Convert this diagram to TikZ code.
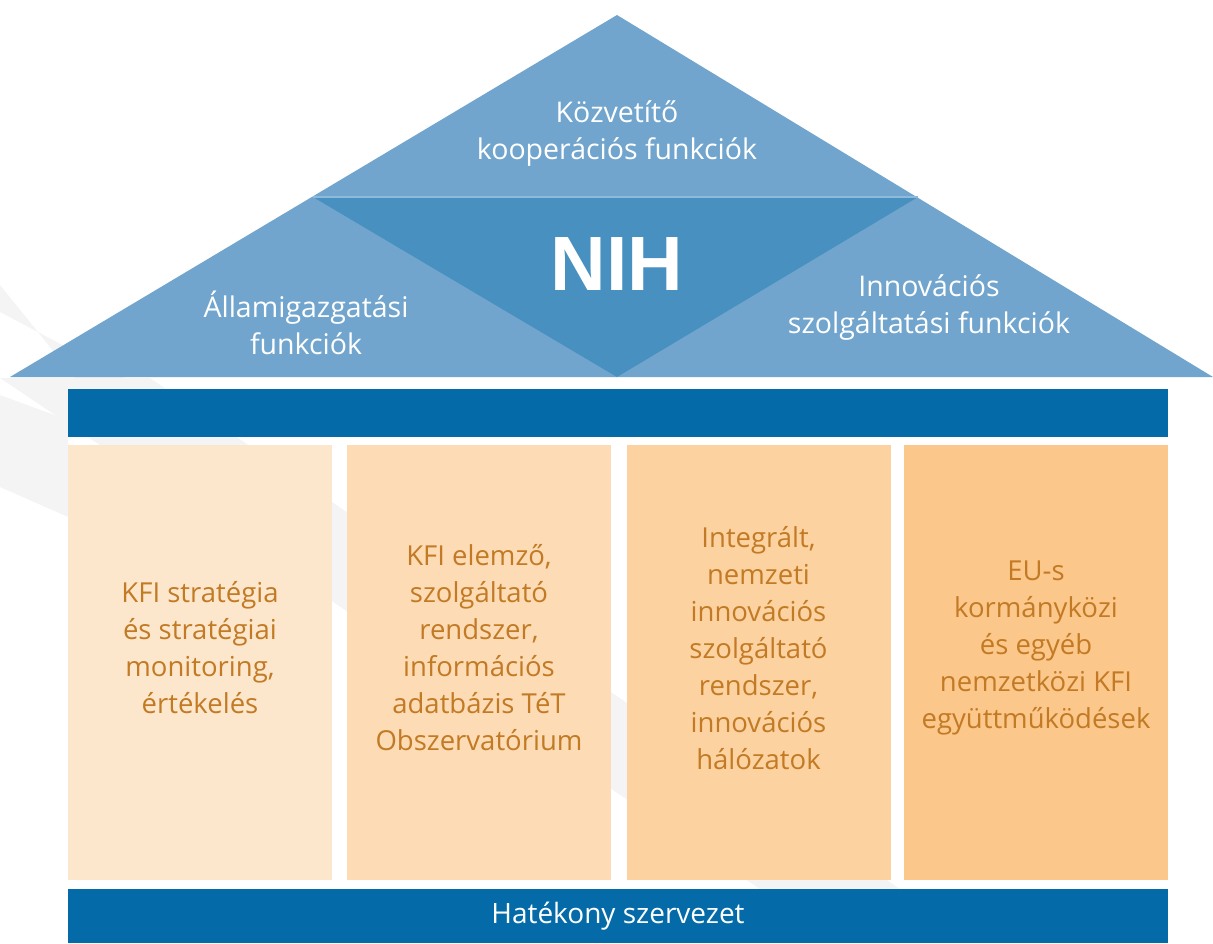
\documentclass[tikz,border=0pt]{standalone}
\usepackage{fontspec}
\setmainfont{Open Sans}
\newfontfamily\nihfont{Liberation Sans}
\usetikzlibrary{positioning}

\definecolor{roofblue}{HTML}{71A5CD}
\definecolor{nihblue}{HTML}{4790C0}
\definecolor{barblue}{HTML}{046BA8}
\definecolor{ridge}{HTML}{8DB9DA}
\definecolor{swoosh}{HTML}{F4F4F4}
\definecolor{colA}{HTML}{FDE7CC}
\definecolor{colB}{HTML}{FDDBB5}
\definecolor{colC}{HTML}{FCD2A1}
\definecolor{colD}{HTML}{FCC78A}
\definecolor{coltext}{HTML}{C27A24}

\tikzset{
    rooftext/.style={text=white, align=center, font=\fontsize{28.5}{37}\selectfont},
    pillartext/.style={text=coltext, align=center, font=\fontsize{27.5}{37}\selectfont},
    pillar/.style={draw=none, minimum width=264pt, minimum height=435pt, inner sep=0pt}
}

\begin{document}
\begin{tikzpicture}[x=1pt, y=-1pt]
    \useasboundingbox (0,0) rectangle (1213,943);

    % faint swooshes in the background
    \fill[swoosh] (0,378) -- (150,378) -- (900,889) -- (760,889) -- cycle;
    \fill[swoosh] (0,395) -- (0,487) -- (68,517) -- (68,420) -- cycle;
    \fill[swoosh] (0,285) -- (0,312) -- (125,378) -- (75,378) -- cycle;

    % Roof
    \coordinate (apex) at (617,15);
    \coordinate (eaveL) at (10,377);
    \coordinate (eaveR) at (1213,377);
    \coordinate (ridgeL) at (313,197);
    \coordinate (ridgeR) at (918,197);
    \coordinate (peak) at (617,377);
    \fill[roofblue] (eaveL) -- (apex) -- (eaveR) -- cycle;
    \fill[nihblue] (ridgeL) -- (ridgeR) -- (peak) -- cycle;
    \draw[ridge, line width=1.5pt] (ridgeL) -- (ridgeR);

    \node[rooftext] (koz) at (617,134) {Közvetítő\\kooperációs funkciók};
    \node[rooftext] (allam) at (306,323) {Államigazgatási\\funkciók};
    \node[rooftext] (innov) at (929,307) {Innovációs\\szolgáltatási funkciók};
    \node[text=white, font=\nihfont\bfseries\fontsize{77}{77}\selectfont] (nih) at (617,264) {NIH};

    % Beam under the roof
    \fill[barblue] (68,389) rectangle (1168,437);

    % Pillars
    \foreach \cx/\col/\txt/\nm in {
        200/colA/{KFI stratégia\\és stratégiai\\monitoring,\\értékelés}/p1,
        479/colB/{KFI elemző,\\szolgáltató\\rendszer,\\információs\\adatbázis TéT\\Obszervatórium}/p2,
        758.5/colC/{Integrált,\\nemzeti\\innovációs\\szolgáltató\\rendszer,\\innovációs\\hálózatok}/p3,
        1036/colD/{EU-s\\kormányközi\\és egyéb\\nemzetközi KFI\\együttműködések}/p4} {
        \node[pillar, fill=\col] (\nm) at (\cx,662.5) {};
        \node[pillartext] (\nm t) at (\cx,648) {\txt};
    }

    % Base
    \node[fill=barblue, minimum width=1100pt, minimum height=54pt, inner sep=0pt,
          text=white, font=\fontsize{28}{37}\selectfont] (base) at (618,916) {Hatékony szervezet};

\end{tikzpicture}
\end{document}
